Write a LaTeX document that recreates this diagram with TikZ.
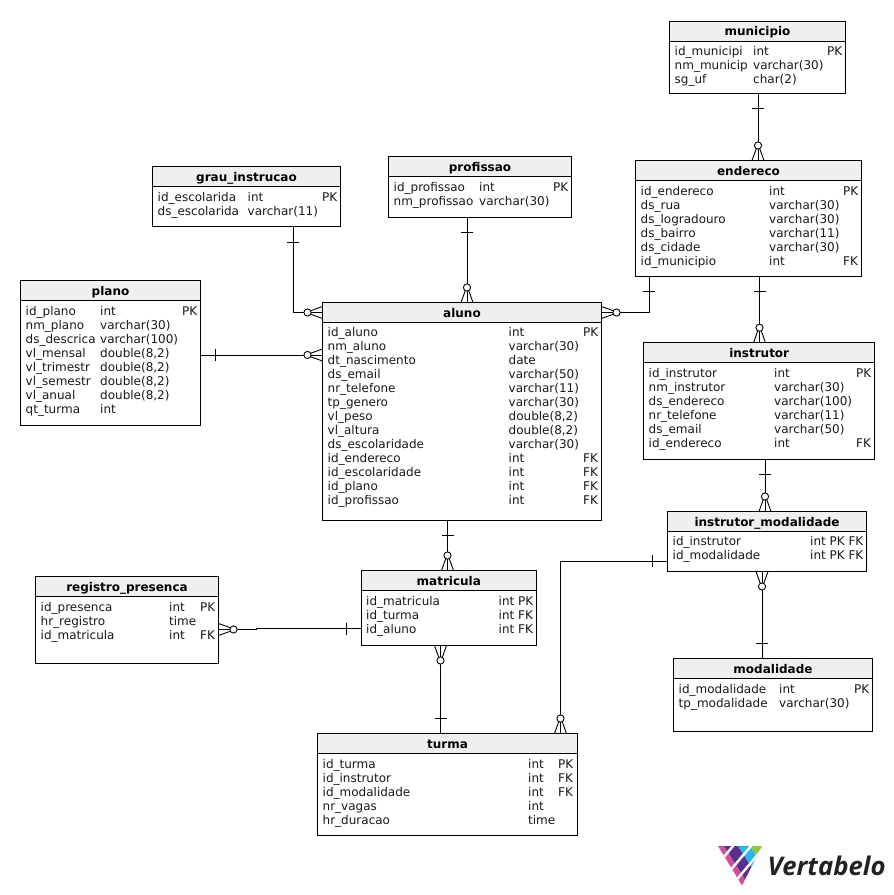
\documentclass[tikz,border=0pt]{standalone}
\usepackage{fontspec}
\setmainfont{DejaVu Sans}
\newfontfamily\logofont{Open Sans}
\definecolor{hdr}{HTML}{EFEFEF}
\definecolor{lgpink}{HTML}{D0509A}
\definecolor{lgpurple}{HTML}{5C2D91}
\definecolor{lgblue}{HTML}{27B5EA}
\definecolor{lggreen}{HTML}{8DC63F}
\definecolor{lgtext}{HTML}{222222}
\tikzset{
  x=1pt,y=-1pt,
  entity/.style={draw=black,line width=1pt,anchor=north west,inner sep=0pt,outer sep=0pt},
  headbar/.style={draw=black,fill=hdr,line width=1pt,anchor=north west,inner sep=0pt,outer sep=0pt},
  headtext/.style={font=\fontsize{12}{14}\selectfont\bfseries,anchor=base,inner sep=0pt},
  celltext/.style={font=\fontsize{12}{14}\selectfont,anchor=base west,inner sep=0pt,text=black!90},
  link/.style={draw=black,line width=1pt},
  foot/.style={draw=black,line width=.9pt},
  logogap/.style={draw=white,line width=2.4pt},
}
\newcommand{\tbl}[6]{%
  \pgfmathsetmacro\tw{#4-#2}\pgfmathsetmacro\th{#5-#3}%
  \node[entity,minimum width=\tw pt,minimum height=\th pt] (#1) at (#2,#3) {};
  \node[headbar,minimum width=\tw pt,minimum height=20pt] (#1-head) at (#2,#3) {};
  \pgfmathsetmacro\tc{(#2+#4)/2}\pgfmathsetmacro\tb{#3+14.5}%
  \node[headtext] (#1-title) at (\tc,\tb) {#6};
}
\newcommand{\rows}[7]{%
  \foreach \na/\ty/\key [count=\i] in {#7} {%
    \pgfmathsetmacro\yy{#2+14*(\i-1)}%
    \node[celltext] (#1-a\i) at (#3,\yy) {\na};
    \node[celltext] (#1-b\i) at (#4,\yy) {\ty};
    \node[celltext] (#1-c\i) at (#5,\yy) {\key};
  }%
}
% crow's foot with circle: at (#1), page angle -#2 pointing away from the entity
\newcommand{\zmany}[2]{%
  \begin{scope}[shift={(#1)},rotate=-#2]
    \draw[foot] (0,0) -- (11.5,0);
    \draw[foot] (0,-6) -- (11.7,-1.8);
    \draw[foot] (0,6) -- (11.7,1.8);
    \draw[foot,fill=white] (15,0) circle (3.6);
  \end{scope}}
\newcommand{\onebar}[2]{%
  \begin{scope}[shift={(#1)},rotate=-#2]
    \draw[foot] (15,-6) -- (15,6);
  \end{scope}}
% logo band: colour, left and right offset along the top edge
\newcommand{\lgband}[3]{\fill[#1] (#2,846) -- (#3,846) -- (#3+25.6,886) -- (#2+25.6,886) -- cycle;}
\begin{document}
\begin{tikzpicture}
\useasboundingbox (0,0) rectangle (894,895);
\fill[white] (0,0) rectangle (894,895);
\tbl{municipio}{669.5}{21}{845.5}{93.5}{municipio}
\tbl{endereco}{635.5}{160.5}{861.5}{276}{endereco}
\tbl{instrutor}{643.7}{342.7}{874.7}{459}{instrutor}
\tbl{aluno}{322.5}{302.5}{601.5}{520}{aluno}
\tbl{plano}{20.5}{280.5}{200.5}{425.5}{plano}
\tbl{grau}{152.5}{166.5}{340.5}{226.5}{grau\_instrucao}
\tbl{profissao}{388.5}{156.5}{571.5}{217.5}{profissao}
\tbl{instmod}{667.5}{511.5}{866.5}{571.5}{instrutor\_modalidade}
\tbl{modalidade}{673.5}{658.5}{872.5}{731.5}{modalidade}
\tbl{registro}{35.5}{576.5}{218.5}{663.5}{registro\_presenca}
\tbl{matricula}{361.3}{570.5}{536.3}{645.5}{matricula}
\tbl{turma}{317.5}{733.5}{577.5}{835.5}{turma}

\rows{municipio}{55.5}{674.5}{753}{827}{}{id\_municipi/int/PK,nm\_municip/varchar(30)/,sg\_uf/char(2)/}
\rows{endereco}{195}{640.5}{769}{843}{}{id\_endereco/int/PK,ds\_rua/varchar(30)/,ds\_logradouro/varchar(30)/,ds\_bairro/varchar(11)/,ds\_cidade/varchar(30)/,id\_municipio/int/FK}
\rows{instrutor}{377}{648.5}{774}{856}{}{id\_instrutor/int/PK,nm\_instrutor/varchar(30)/,ds\_endereco/varchar(100)/,nr\_telefone/varchar(11)/,ds\_email/varchar(50)/,id\_endereco/int/FK}
\rows{aluno}{336.8}{327.5}{508.5}{583}{}{id\_aluno/int/PK,nm\_aluno/varchar(30)/,dt\_nascimento/date/,ds\_email/varchar(50)/,nr\_telefone/varchar(11)/,tp\_genero/varchar(30)/,vl\_peso/{double(8,2)}/,vl\_altura/{double(8,2)}/,ds\_escolaridade/varchar(30)/,id\_endereco/int/FK,id\_escolaridade/int/FK,id\_plano/int/FK,id\_profissao/int/FK}
\rows{plano}{315}{25.5}{100}{182}{}{id\_plano/int/PK,nm\_plano/varchar(30)/,ds\_descrica/varchar(100)/,vl\_mensal/{double(8,2)}/,vl\_trimestr/{double(8,2)}/,vl\_semestr/{double(8,2)}/,vl\_anual/{double(8,2)}/,qt\_turma/int/}
\rows{grau}{201}{157.5}{247.5}{322}{}{id\_escolarida/int/PK,ds\_escolarida/varchar(11)/}
\rows{profissao}{191}{393.5}{479}{553}{}{id\_profissao/int/PK,nm\_profissao/varchar(30)/}
\rows{instmod}{545.5}{672.5}{810}{832}{}{id\_instrutor/int PK FK/,id\_modalidade/int PK FK/}
\rows{modalidade}{693}{678.5}{779}{854}{}{id\_modalidade/int/PK,tp\_modalidade/varchar(30)/}
\rows{registro}{611}{40.5}{169}{200}{}{id\_presenca/int/PK,hr\_registro/time/,id\_matricula/int/FK}
\rows{matricula}{605}{366}{498.5}{518}{}{id\_matricula/int/PK,id\_turma/int/FK,id\_aluno/int/FK}
\rows{turma}{768}{322.5}{528}{558}{}{id\_turma/int/PK,id\_instrutor/int/FK,id\_modalidade/int/FK,nr\_vagas/int/,hr\_duracao/time/}

% connectors
\draw[link] (758,0 |- municipio.south) -- (758,0 |- endereco.north);
\onebar{758,93.5}{90}\zmany{758,160.5}{-90}
\draw[link] (649,0 |- endereco.south) |- (aluno.east |- 0,312.5);
\onebar{649,276}{90}\zmany{601.5,312.5}{0}
\draw[link] (759.5,0 |- endereco.south) -- (759.5,0 |- instrutor.north);
\onebar{759.5,276}{90}\zmany{759.5,342.7}{-90}
\draw[link] (467,0 |- profissao.south) -- (467,0 |- aluno.north);
\onebar{467,217.5}{90}\zmany{467,302.5}{-90}
\draw[link] (293,0 |- grau.south) |- (aluno.west |- 0,312.5);
\onebar{293,227}{90}\zmany{322.5,312.5}{180}
\draw[link] (plano.east |- 0,355) -- (aluno.west |- 0,355);
\onebar{200.5,355}{0}\zmany{322.5,355}{180}
\draw[link] (447.5,0 |- aluno.south) -- (447.5,0 |- matricula.north);
\onebar{447.5,520}{90}\zmany{447.5,570.5}{-90}
\draw[link] (440.5,0 |- matricula.south) -- (440.5,0 |- turma.north);
\onebar{440.5,733.5}{-90}\zmany{440.5,645.5}{90}
\draw[link] (matricula.west |- 0,628.5) -- (256.7,628.5) -- (256.7,629.5) -- (registro.east |- 0,629.5);
\onebar{361.3,628.5}{180}\zmany{218.5,629.5}{0}
\draw[link] (765,0 |- instrutor.south) -- (765,0 |- instmod.north);
\onebar{765,459}{90}\zmany{765,511.5}{-90}
\draw[link] (762,0 |- instmod.south) -- (762,0 |- modalidade.north);
\onebar{762,658.5}{-90}\zmany{762,571.5}{90}
\draw[link] (instmod.west |- 0,561) -| (560.5,0 |- turma.north);
\onebar{667.5,561}{180}\zmany{560.5,733.5}{-90}

% logo
\begin{scope}
  \clip (718,846) -- (762,846) -- (742,885.5) -- cycle;
  \lgband{lgpink}{700}{724}
  \lgband{lgpurple}{724}{738}
  \lgband{lgblue}{738}{750}
  \lgband{lggreen}{750}{770}
  \draw[logogap] (734.7,844) -- (718,864);
  \draw[logogap] (752.7,844) -- (722,880);
  \draw[logogap] (765,846) -- (733,884);
\end{scope}
\node[font=\logofont\fontsize{25.7}{30}\selectfont\bfseries\itshape,text=lgtext,anchor=base west,inner sep=0pt] (logotext) at (767.5,875) {Vertabelo};
\end{tikzpicture}
\end{document}
